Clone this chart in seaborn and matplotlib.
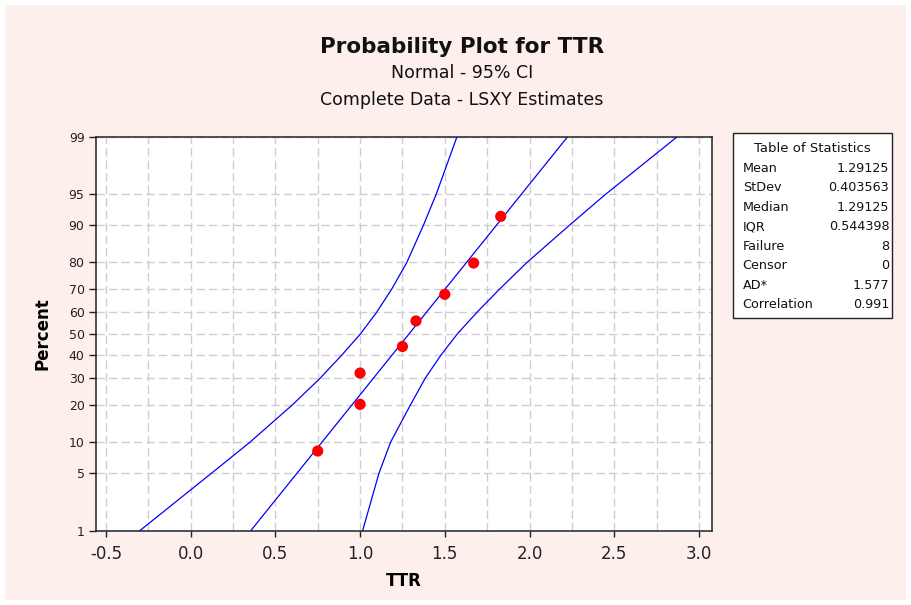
import numpy as np
import pandas as pd
import matplotlib
matplotlib.use("Agg")
import matplotlib.pyplot as plt
from matplotlib.patches import Rectangle
import seaborn as sns
from statistics import NormalDist

# ---------------- data ----------------
ttr = [0.75, 1.0, 1.0, 1.25, 1.33, 1.5, 1.67, 1.83]
pct = [8.3, 20.2, 32.1, 44.0, 56.0, 67.9, 79.8, 91.7]

fit_pct = [1, 99]
fit_x = [0.355, 2.225]

band_pct = [1, 5, 10, 20, 30, 40, 50, 60, 70, 80, 90, 95, 99]
band_left = [-0.30, 0.125, 0.35, 0.60, 0.765, 0.892, 1.003, 1.098, 1.186, 1.276, 1.374, 1.449, 1.572]
band_right = [1.015, 1.112, 1.18, 1.297, 1.385, 1.477, 1.575, 1.69, 1.822, 1.985, 2.236, 2.448, 2.872]

x_ticks = [-0.5, 0.0, 0.5, 1.0, 1.5, 2.0, 2.5, 3.0]
x_minor = [-0.25, 0.25, 0.75, 1.25, 1.75, 2.25, 2.75]
y_ticks = [1, 5, 10, 20, 30, 40, 50, 60, 70, 80, 90, 95, 99]

stat_names = ["Mean", "StDev", "Median", "IQR", "Failure", "Censor", "AD*", "Correlation"]
stat_values = ["1.29125", "0.403563", "1.29125", "0.544398", "8", "0", "1.577", "0.991"]

# ---------------- normal probability scale ----------------
_nd = NormalDist()

def _fwd_scalar(v):
    if not np.isfinite(v):
        return np.nan
    q = min(max(v / 100.0, 1e-12), 1 - 1e-12)
    return _nd.inv_cdf(q)

def _inv_scalar(z):
    if not np.isfinite(z):
        return np.nan
    return 100.0 * _nd.cdf(z)

_fwd_v = np.vectorize(_fwd_scalar, otypes=[float])
_inv_v = np.vectorize(_inv_scalar, otypes=[float])

def forward(p):
    return _fwd_v(np.asarray(p, dtype=float))

def inverse(z):
    return _inv_v(np.asarray(z, dtype=float))

# ---------------- figure ----------------
W, H = 911, 605
fig = plt.figure(figsize=(W / 100, H / 100), dpi=100)
fig.patch.set_facecolor("white")
fig.patches.append(Rectangle((5 / W, 5 / H), 901 / W, 595 / H, transform=fig.transFigure,
                             facecolor="#fcefec", edgecolor="none", zorder=-10))

ax_l, ax_r, ax_t, ax_b = 95.7, 711.7, 136.7, 530.7
ax = fig.add_axes([ax_l / W, 1 - ax_b / H, (ax_r - ax_l) / W, (ax_b - ax_t) / H])
ax.set_facecolor("white")
ax.set_yscale("function", functions=(forward, inverse))

line_color = "#0000ff"
sns.lineplot(x=band_left, y=band_pct, sort=False, estimator=None, color=line_color,
             linewidth=0.9, ax=ax)
sns.lineplot(x=band_right, y=band_pct, sort=False, estimator=None, color=line_color,
             linewidth=0.9, ax=ax)
sns.lineplot(x=fit_x, y=fit_pct, sort=False, estimator=None, color=line_color,
             linewidth=0.9, ax=ax)
sns.scatterplot(x=ttr, y=pct, color="#ff0000", s=65, edgecolor="none", zorder=5, ax=ax)

ax.set_xlim(-0.56, 3.075)
ax.set_ylim(1, 99)
ax.set_xticks(x_ticks)
ax.set_xticklabels([f"{v:.1f}" for v in x_ticks])
ax.set_xticks(x_minor, minor=True)
ax.set_yticks(y_ticks)
ax.set_yticklabels([str(v) for v in y_ticks])
ax.yaxis.set_minor_locator(matplotlib.ticker.NullLocator())

grid_kw = dict(color="#d3cbd3", linestyle=(0, (6, 3)), linewidth=1.0)
ax.grid(True, which="both", axis="x", **grid_kw)
ax.grid(True, which="major", axis="y", **grid_kw)
ax.set_axisbelow(True)

for s in ax.spines.values():
    s.set_color("#222222")
    s.set_linewidth(1.1)

ax.tick_params(axis="x", which="major", direction="out", length=4, width=1, pad=6,
               labelsize=12, labelcolor="#222222", color="#222222")
ax.tick_params(axis="x", which="minor", length=0)
ax.tick_params(axis="y", which="major", direction="out", length=5, width=1, pad=3,
               labelsize=9, labelcolor="#222222", color="#222222")

ax.set_xlabel("TTR", fontsize=12, fontweight="bold")
ax.xaxis.set_label_coords(0.5, -0.105)
ax.set_ylabel("Percent", fontsize=12, fontweight="bold")
ax.yaxis.set_label_coords(-0.072, 0.5)

# ---------------- titles ----------------
cx = 462 / W
fig.text(cx, 1 - 47 / H, "Probability Plot for TTR", ha="center", va="center",
         fontsize=15.5, fontweight="bold", color="#111111")
fig.text(cx, 1 - 73 / H, "Normal - 95% CI", ha="center", va="center",
         fontsize=12.5, color="#111111")
fig.text(cx, 1 - 100 / H, "Complete Data - LSXY Estimates", ha="center", va="center",
         fontsize=12.5, color="#111111")

# ---------------- table of statistics ----------------
bl, br, bt, bb = 733.3, 892.3, 133.3, 318.3
fig.patches.append(Rectangle((bl / W, 1 - bb / H), (br - bl) / W, (bb - bt) / H,
                             transform=fig.transFigure, facecolor="white",
                             edgecolor="#222222", linewidth=1.0, zorder=1))
fig.text((bl + br) / 2 / W, 1 - 148.3 / H, "Table of Statistics", ha="center", va="center",
         fontsize=9.5, color="#111111")
row_y0, row_dy = 168.3, 19.5
for i, (nm, vl) in enumerate(zip(stat_names, stat_values)):
    yy = 1 - (row_y0 + i * row_dy) / H
    fig.text(742.7 / W, yy, nm, ha="left", va="center", fontsize=9.2, color="#111111")
    fig.text(889.3 / W, yy, vl, ha="right", va="center", fontsize=9.2, color="#111111")

fig.savefig("out.png", dpi=100, facecolor=fig.get_facecolor())
